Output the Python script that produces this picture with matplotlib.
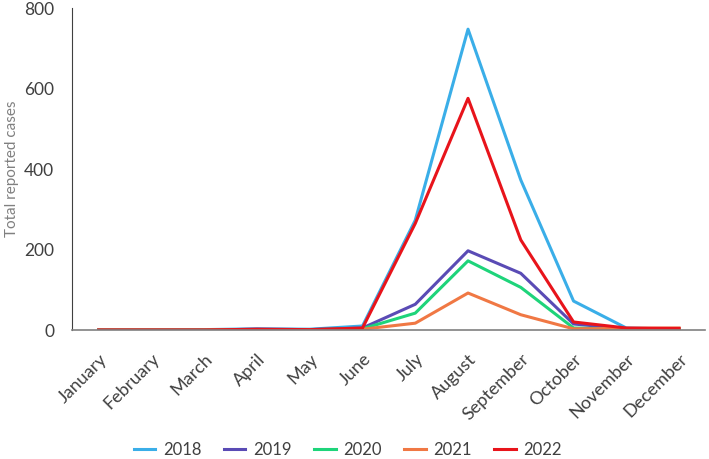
import matplotlib
matplotlib.use('Agg')
import matplotlib.pyplot as plt

plt.rcParams['font.family'] = ['Lato', 'DejaVu Sans']

# Данные
months = ['January', 'February', 'March', 'April', 'May', 'June',
          'July', 'August', 'September', 'October', 'November', 'December']
cases_2018 = [0, 0, 1, 3, 2, 10, 273, 748, 373, 72, 5, 2]
cases_2019 = [0, 0, 0, 2, 1, 5, 64, 197, 141, 15, 3, 2]
cases_2020 = [0, 0, 0, 1, 1, 3, 42, 172, 106, 5, 2, 2]
cases_2021 = [0, 0, 0, 1, 1, 2, 17, 92, 38, 3, 4, 5]
cases_2022 = [0, 0, 0, 2, 1, 5, 265, 576, 224, 20, 5, 4]

series = [
    ('2018', cases_2018, '#3aaee8'),
    ('2019', cases_2019, '#5a4bb5'),
    ('2020', cases_2020, '#1ed47a'),
    ('2021', cases_2021, '#f07844'),
    ('2022', cases_2022, '#e8141b'),
]

fig, ax = plt.subplots(figsize=(7.09, 4.59), dpi=100)
x = range(len(months))
for name, vals, col in series:
    ax.plot(x, vals, color=col, lw=2.2, label=name)

ax.set_xlim(-0.5, len(months) - 0.5)
ax.set_ylim(0, 800)
ax.set_yticks([0, 200, 400, 600, 800])
ax.set_xticks(list(x))
ax.set_xticklabels(months, rotation=45, ha='right', rotation_mode='anchor',
                   fontsize=13, color='#404040')
ax.tick_params(axis='y', labelsize=12.5, labelcolor='#404040', length=0, pad=13)
ax.tick_params(axis='x', length=0, pad=15)
ax.set_ylabel('Total reported cases', fontsize=11, color='#808080', labelpad=4)

for s in ['top', 'right']:
    ax.spines[s].set_visible(False)
ax.spines['left'].set_color('#404040')
ax.spines['bottom'].set_color('#808080')
ax.spines['bottom'].set_linewidth(1.2)

ax.legend(loc='center', bbox_to_anchor=(0.435, -0.373), ncol=5,
          frameon=False, fontsize=12, handlelength=1.3, handletextpad=0.45,
          columnspacing=1.35, labelcolor='#404040')

plt.subplots_adjust(left=0.102, right=0.995, top=0.982, bottom=0.281)
plt.savefig('out.png', dpi=100)
